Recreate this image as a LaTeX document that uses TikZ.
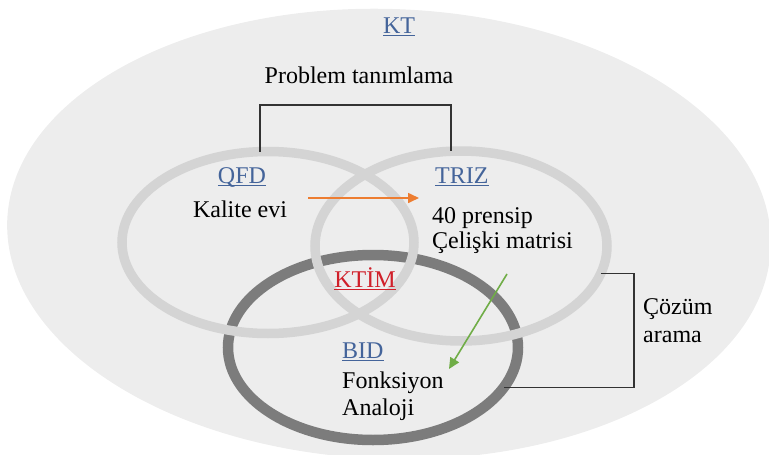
\documentclass[tikz,border=0pt]{standalone}
\usepackage{fontspec}
\setmainfont{LiberationSerif}[Extension=.ttf,UprightFont=*-Regular,BoldFont=*-Bold]
\usetikzlibrary{shapes.geometric,arrows.meta}
\definecolor{ktfill}{HTML}{EDEDED}
\definecolor{ringlight}{HTML}{D4D4D4}
\definecolor{ringdark}{HTML}{7C7C7C}
\definecolor{lblblue}{HTML}{44649A}
\definecolor{lblred}{HTML}{D0202A}
\definecolor{arrorange}{HTML}{ED7D31}
\definecolor{arrgreen}{HTML}{70AD47}
\definecolor{brk}{HTML}{333333}
\newcommand\myul[1]{\setbox0\hbox{#1}\rlap{\rule[-2.6pt]{\wd0}{1pt}}\box0}
\begin{document}
\begin{tikzpicture}[x=1pt,y=1pt,
  txt/.style={inner sep=0pt,font=\fontsize{24}{28}\selectfont},
  lt/.style={txt,anchor=base west},
  ct/.style={txt,anchor=base},
  ring/.style={ellipse,draw,outer sep=0pt,inner sep=0pt},
  lightring/.style={ring,draw=ringlight,line width=9.5pt},
  darkring/.style={ring,draw=ringdark,line width=10.5pt},
  bracket/.style={draw=brk,line width=1.3pt},
  arr/.style={line width=1.6pt,-{Triangle[length=11pt,width=10pt]}}]
\useasboundingbox (0,0) rectangle (769,-455);
% outer area
\node[ellipse,fill=ktfill,inner sep=0pt,minimum width=764pt,minimum height=450pt,rotate=-2] (kt) at (389,-234) {};
% rings
\node[darkring,minimum width=290pt,minimum height=185pt] (bid) at (373,-347.5) {};
\node[lightring,minimum width=292pt,minimum height=182pt] (qfd) at (268,-242.5) {};
\node[lightring,minimum width=292pt,minimum height=190pt] (triz) at (461,-246) {};
% texts
\node[ct,text=lblblue] (ktl) at (399,-33) {\myul{KT}};
\node[ct] (prob) at (359,-83) {Problem tanımlama};
\node[ct,text=lblblue] (qfdl) at (242,-183) {\myul{QFD}};
\node[ct] (kalite) at (240,-217) {Kalite evi};
\node[lt,text=lblblue] (trizl) at (435,-183) {\myul{TRIZ}};
\node[lt] (prensip) at (432,-223) {40 prensip};
\node[lt] (celiski) at (432,-248) {Çelişki matrisi};
\node[ct,text=lblred] (ktim) at (365,-287) {\myul{KTİM}};
\node[lt,text=lblblue] (bidl) at (342,-358) {\myul{BID}};
\node[lt] (fonk) at (342,-388) {Fonksiyon};
\node[lt] (analoji) at (342,-415) {Analoji};
\node[lt] (cozum) at (643,-314) {Çözüm};
\node[lt] (arama) at (643,-342) {arama};
% brackets
\coordinate (ptop) at (0,-105);
\draw[bracket] (qfd.95) |- (ptop -| triz.96) -- (triz.96);
\coordinate (pright) at (634,-300);
\draw[bracket] (triz.-11) -| (pright) |- (bid.-17);
% arrows
\coordinate (oas) at (308,-198);
\coordinate (oae) at (419,-198);
\draw[arr,arrorange] (oas) -- (oae);
\coordinate (gas) at (507,-274);
\coordinate (gae) at (449,-369);
\draw[arr,arrgreen] (gas) -- (gae);
\end{tikzpicture}
\end{document}
